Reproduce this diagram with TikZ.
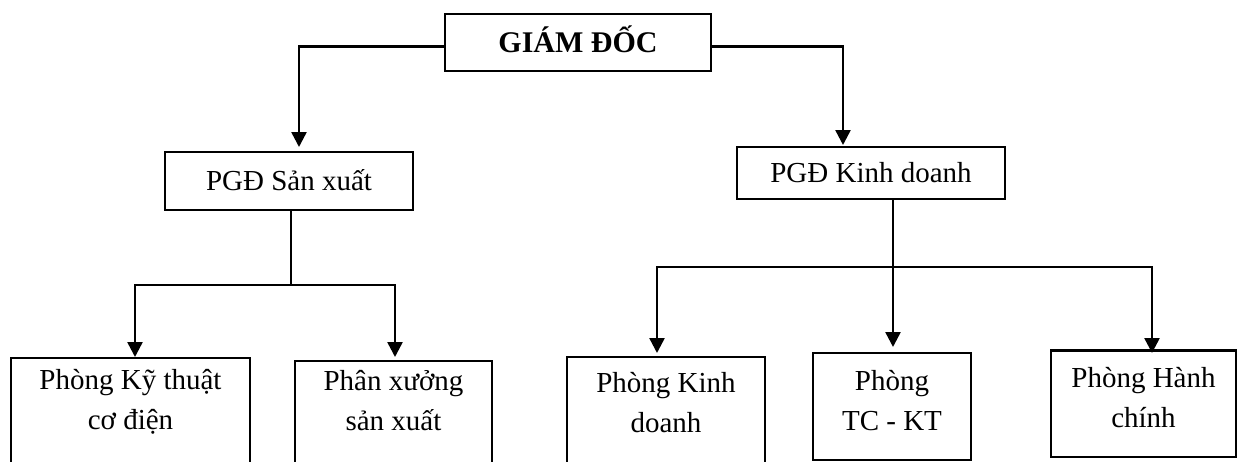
\documentclass[tikz,border=0pt]{standalone}
\usepackage{fontspec}
\setmainfont{Liberation Serif}
\usetikzlibrary{arrows.meta,calc}
\begin{document}
\begin{tikzpicture}[x=1pt,y=-1pt,
  box/.style={draw, line width=2.5pt, inner sep=0pt, outer sep=0pt},
  conn/.style={line width=2.5pt},
  arr/.style={conn, -{Triangle[width=15pt,length=15pt]}},
  lbl/.style={font=\fontsize{29}{40}\selectfont, text height=19pt, text depth=0pt},
  txt/.style={inner sep=0pt, outer sep=0pt, font=\fontsize{29}{40}\selectfont, align=center, anchor=north}]
\useasboundingbox (0,0) rectangle (1238,461);
\fill[white] (0,0) rectangle (1238,461);
\clip (0,0) rectangle (1238,461);

% top level
\node[box, lbl, minimum width=266pt, minimum height=57pt, font=\fontsize{30}{40}\selectfont\bfseries, text height=19.5pt] (gd) at (578,42.5) {GIÁM ĐỐC};
\node[box, lbl, minimum width=248pt, minimum height=58pt] (sx) at (289,181) {PGĐ Sản xuất};
\node[box, lbl, minimum width=268pt, minimum height=52pt] (kd) at (871,173) {PGĐ Kinh doanh};

% bottom boxes
\node[box, minimum width=239pt, minimum height=122pt] (kt) at (130.5,419) {};
\node[box, minimum width=197pt, minimum height=119pt] (px) at (393.5,420.5) {};
\node[box, minimum width=198pt, minimum height=123pt] (pkd) at (666,418.5) {};
\node[box, minimum width=158pt, minimum height=107pt] (tc) at (892,406.5) {};
\node[box, minimum width=185pt, minimum height=106.5pt] (hc) at (1143.5,403.75) {};

% texts of bottom boxes
\node[txt] (tkt) at (130.5,361) {\rule{0pt}{28pt}Phòng Kỹ thuật\\cơ điện};
\node[txt] (tpx) at (393.5,362) {\rule{0pt}{28pt}Phân xưởng\\sản xuất};
\node[txt] (tpkd) at (666,364) {\rule{0pt}{28pt}Phòng Kinh\\doanh};
\node[txt] (ttc) at (892,362) {\rule{0pt}{28pt}Phòng\\TC - KT};
\node[txt] (thc) at (1143.5,359) {\rule{0pt}{28pt}Phòng Hành\\chính};

% connectors from the director
\draw[arr] ($(gd.west)+(0,4)$) -| ($(sx.north)+(10,-5)$);
\draw[arr] ($(gd.east)+(0,4)$) -| ($(kd.north)+(-28,-2)$);

% production branch
\coordinate (jl) at ($(sx.south)+(2,75)$);
\draw[conn] ($(sx.south)+(2,0)$) -- (jl);
\draw[arr] (jl) -| ($(kt.north)+(4.5,-1)$);
\draw[arr] (jl) -| ($(px.north)+(1.5,-4)$);

% business branch
\coordinate (jr) at ($(kd.south)+(22,68)$);
\draw[conn] ($(kd.south)+(22,0)$) -- (jr);
\draw[arr] (jr) -| ($(pkd.north)+(-9,-4)$);
\draw[arr] (jr) -- ($(tc.north)+(1,-6)$);
\draw[arr] (jr) -| ($(hc.north)+(8.5,2.5)$);
\end{tikzpicture}
\end{document}
